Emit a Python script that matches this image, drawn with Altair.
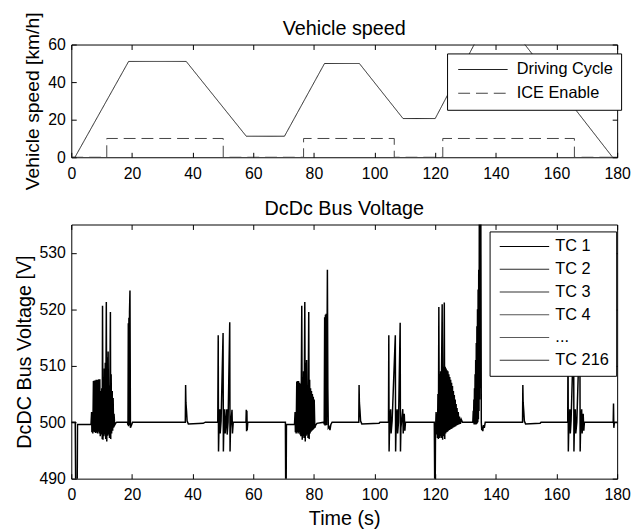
import altair as alt
import pandas as pd

FONT = "Liberation Sans"

# ---------------- Panel 1 : vehicle speed ----------------
speed_time = [0, 1.2, 18.9, 37.9, 57.7, 70.3, 83.5, 95.0, 109.4, 120.0, 133.5, 148.6, 178.5, 180]
speed_kmh = [0, 0, 51.0, 51.0, 11.2, 11.2, 49.9, 49.9, 20.6, 20.6, 62.0, 62.0, 0, 0]

ice_time = [0, 11.7, 11.7, 50.1, 50.1, 76.6, 76.6, 106.5, 106.5, 122.5, 122.5, 165.9, 165.9, 180]
ice_value = [0, 0, 10, 10, 0, 0, 10, 10, 0, 0, 10, 10, 0, 0]

speed_series = ["Driving Cycle", "ICE Enable"]
speed_colors = ["#222222", "#444444"]
speed_dash = [[1, 0], [12, 6]]

x_ticks = [0, 20, 40, 60, 80, 100, 120, 140, 160, 180]
speed_ticks = [0, 20, 40, 60]
volt_ticks = [490, 500, 510, 520, 530]

# ---------------- Panel 2 : DcDc bus voltage ----------------
tc_labels = ["TC 1", "TC 2", "TC 3", "TC 4", "...", "TC 216"]
tc_colors = ["#000000", "#2b2b2b", "#333333", "#555555", "#5a5a5a", "#333333"]

# envelope of the overlaid test-case traces (time [s], voltage [V])
tc1_points = [
    (0.0, 500.0), (1.3, 500.0), (1.45, 488.0), (1.95, 488.0), (2.05, 499.6), (6.5, 499.6),
    (6.7, 501.8), (6.8, 498.2), (7.0, 501.5), (7.1, 498.0), (7.3, 507.3), (7.45, 498.3),
    (7.6, 507.4), (7.75, 498.2), (7.9, 507.4), (8.05, 498.1), (8.2, 507.5), (8.35, 498.2),
    (8.5, 507.5), (8.65, 498.0), (8.8, 507.5), (8.95, 498.3), (9.1, 507.6), (9.25, 498.0),
    (9.4, 507.6), (9.55, 497.5), (9.75, 505.5), (9.9, 497.8), (10.05, 506.0), (10.2, 497.0),
    (10.3, 520.6), (10.45, 496.9), (10.6, 508.0), (10.75, 497.5), (10.9, 509.5), (11.05, 497.8),
    (11.2, 510.5), (11.35, 497.0), (11.55, 521.3), (11.7, 496.6), (11.85, 511.5), (12.0, 497.6),
    (12.15, 512.5), (12.3, 497.8), (12.5, 506.5), (12.6, 497.2), (12.9, 519.5), (13.0, 497.0),
    (13.15, 508.5), (13.3, 498.0), (13.5, 505.5), (13.65, 498.5), (13.8, 504.3), (13.95, 499.0),
    (14.1, 501.5), (14.3, 499.5), (14.6, 499.8), (15.0, 500.0),
    (18.5, 500.0), (18.7, 499.5), (18.8, 517.5), (18.9, 499.3), (19.0, 518.5), (19.1, 499.5),
    (19.2, 519.5), (19.35, 523.3), (19.5, 499.0), (19.8, 499.4), (20.2, 500.0),
    (37.6, 500.0), (37.7, 506.6), (37.8, 503.5), (38.0, 502.0), (38.2, 500.2), (38.6, 499.7),
    (43.5, 499.8), (44.2, 500.0),
    (48.3, 500.0), (48.45, 515.4), (48.55, 494.8), (48.7, 499.0), (49.0, 502.3), (49.1, 498.0),
    (49.4, 500.2), (50.05, 515.8), (50.15, 494.8), (50.3, 499.0), (50.6, 502.3), (50.75, 498.0),
    (51.0, 500.0), (51.3, 502.3), (51.4, 497.8), (51.7, 500.0), (52.25, 517.7), (52.35, 494.8),
    (52.5, 499.0), (53.0, 502.2), (53.15, 498.0), (53.4, 500.0),
    (57.6, 500.0), (57.7, 502.2), (57.8, 498.4), (57.9, 502.0), (58.0, 498.6), (58.2, 500.0),
    (70.6, 500.0), (70.7, 488.0), (70.85, 488.0), (70.95, 499.6), (73.6, 499.6),
    (73.8, 501.8), (73.9, 498.2), (74.05, 501.5), (74.15, 498.0), (74.35, 507.2), (74.5, 498.2),
    (74.65, 507.3), (74.8, 498.0), (74.95, 507.3), (75.1, 498.2), (75.25, 507.0), (75.4, 497.8),
    (75.55, 506.8), (75.7, 497.5), (75.85, 506.5), (76.0, 520.6), (76.15, 496.9), (76.3, 508.0),
    (76.45, 497.5), (76.6, 509.0), (76.75, 497.2), (77.0, 521.3), (77.15, 496.6), (77.3, 510.5),
    (77.45, 497.6), (77.6, 511.0), (77.75, 497.8), (77.9, 506.5), (78.05, 497.2), (78.3, 519.5),
    (78.45, 497.0), (78.6, 507.5), (78.75, 498.0), (78.9, 506.0), (79.05, 498.3), (79.2, 505.5),
    (79.35, 498.5), (79.5, 505.0), (79.65, 498.6), (79.8, 504.5), (79.95, 498.8), (80.1, 504.0),
    (80.3, 499.0), (80.6, 499.5), (81.0, 499.8), (83.3, 500.0),
    (83.4, 499.6), (83.55, 518.6), (83.65, 499.4), (83.8, 519.0), (83.9, 499.4), (84.05, 519.2),
    (84.2, 499.5), (84.45, 527.0), (84.6, 506.0), (84.75, 499.0), (85.0, 499.2), (85.3, 498.6),
    (85.6, 499.6), (86.0, 500.0),
    (94.8, 500.0), (94.9, 506.6), (95.0, 503.5), (95.2, 502.0), (95.4, 500.2), (95.8, 499.7),
    (101.5, 499.8), (101.8, 500.0),
    (104.6, 500.0), (104.7, 515.4), (104.8, 494.8), (104.95, 499.0), (105.3, 502.3), (105.45, 498.0),
    (105.8, 500.2), (106.85, 515.4), (106.95, 494.8), (107.1, 499.0), (107.45, 502.3), (107.6, 498.0),
    (107.9, 500.0), (108.45, 517.6), (108.55, 494.8), (108.7, 499.0), (109.3, 502.3), (109.45, 498.0),
    (109.8, 501.5), (110.0, 498.5), (110.2, 500.0),
    (119.7, 500.0), (119.85, 488.0), (120.0, 488.0), (120.1, 498.3), (120.3, 501.8), (120.45, 497.8),
    (120.6, 501.5), (120.75, 497.2), (120.9, 505.0), (121.05, 497.0), (121.2, 520.4), (121.35, 497.2),
    (121.5, 508.5), (121.65, 497.5), (121.8, 509.0), (121.95, 497.2), (122.1, 509.5), (122.3, 520.9),
    (122.45, 496.9), (122.6, 509.8), (122.75, 497.5), (123.0, 521.2), (123.15, 497.0), (123.3, 509.8),
    (123.45, 498.0), (123.6, 509.5), (123.75, 498.2), (123.9, 509.2), (124.05, 498.3), (124.2, 509.0),
    (124.35, 498.5), (124.5, 508.5), (124.65, 498.6), (124.8, 508.0), (124.95, 498.7), (125.1, 507.5),
    (125.25, 498.8), (125.4, 507.0), (125.55, 498.9), (125.7, 506.4), (125.85, 499.0), (126.0, 505.5),
    (126.15, 499.1), (126.3, 504.8), (126.45, 499.2), (126.6, 504.0), (126.75, 499.3), (126.9, 503.2),
    (127.05, 499.4), (127.2, 502.5), (127.4, 499.5), (127.6, 501.8), (127.8, 499.6), (128.0, 501.0),
    (128.3, 499.7), (128.6, 500.5), (129.0, 500.0),
    (132.4, 500.0), (132.55, 502.0), (132.65, 499.8), (132.75, 504.0), (132.85, 499.6), (132.95, 506.0),
    (133.05, 499.6), (133.15, 508.5), (133.25, 499.6), (133.35, 511.0), (133.45, 499.6), (133.55, 514.0),
    (133.65, 499.7), (133.75, 517.0), (133.85, 499.8), (133.95, 520.0), (134.05, 500.0), (134.15, 523.5),
    (134.25, 500.5), (134.35, 527.0), (134.45, 502.0), (134.55, 540.0), (134.65, 504.0), (134.8, 540.0),
    (134.95, 506.0), (135.05, 536.0), (135.2, 500.0), (135.35, 498.6), (135.5, 499.2), (135.7, 498.4),
    (135.9, 499.5), (136.2, 499.0), (136.5, 500.0),
    (148.8, 500.0), (148.9, 506.6), (149.0, 503.5), (149.2, 502.0), (149.4, 500.2), (149.8, 499.7),
    (154.6, 499.8), (154.9, 500.0),
    (163.7, 500.0), (163.8, 516.0), (163.9, 494.8), (164.05, 499.0), (164.4, 502.3), (164.55, 498.0),
    (164.8, 500.2), (165.65, 516.0), (165.75, 494.8), (165.9, 499.0), (166.2, 502.3), (166.35, 498.0),
    (166.7, 500.0), (167.7, 518.0), (167.8, 494.8), (167.95, 499.0), (168.3, 502.3), (168.45, 498.0),
    (168.8, 501.5), (169.0, 498.5), (169.2, 500.0),
    (178.7, 500.0), (178.8, 503.3), (178.9, 499.0), (179.1, 500.0), (180.0, 500.0),
]

# ---------------- data frames ----------------
top_df = pd.DataFrame({
    "t": speed_time + ice_time,
    "v": speed_kmh + ice_value,
    "series": [speed_series[0]] * len(speed_time) + [speed_series[1]] * len(ice_time),
})
top_df["i"] = range(len(top_df))

bot_df = pd.DataFrame({
    "t": [p[0] for p in tc1_points],
    "v": [p[1] for p in tc1_points],
    "series": tc_labels[0],
})
bot_df["i"] = range(len(bot_df))

TICK = 5


def main_x(title=None):
    return alt.Axis(values=x_ticks, orient="bottom", offset=-TICK, tickSize=TICK, labelPadding=8,
                    labelFlush=False, labelOverlap=False, titlePadding=6,
                    title=title if title else None, minExtent=0)


def main_y(values, title, title_size=20):
    return alt.Axis(values=values, title=title, orient="left", offset=-TICK, tickSize=TICK,
                    labelPadding=6, titlePadding=5, labelOverlap=False, labelFlush=False,
                    titleFontSize=title_size, minExtent=0)


def mirror_axis(values, orient):
    return alt.Axis(values=values, orient=orient, labels=False, title=None, offset=-TICK,
                    tickSize=TICK, minExtent=0, maxExtent=0)


xscale = alt.Scale(domain=[0, 180], nice=False, zero=False)

# ---------------- top panel ----------------
top_legend = alt.Legend(
    title=None, orient="none", legendX=380, legendY=9,
    symbolType="M-1,0H9", symbolSize=100, symbolStrokeWidth=1.2, labelOffset=46,
    labelFontSize=16.5, labelFont=FONT, labelColor="black",
    strokeColor="black", fillColor="white", padding=8, rowPadding=7,
)
top_lines = alt.Chart(top_df).mark_line(clip=True, strokeWidth=1).encode(
    x=alt.X("t:Q", scale=xscale, axis=main_x()),
    y=alt.Y("v:Q", scale=alt.Scale(domain=[0, 60], nice=False, zero=False),
            axis=main_y(speed_ticks, "Vehicle speed [km/h]", 19.5)),
    color=alt.Color("series:N", scale=alt.Scale(domain=speed_series, range=speed_colors),
                    legend=top_legend),
    strokeDash=alt.StrokeDash("series:N", scale=alt.Scale(domain=speed_series, range=speed_dash),
                              legend=top_legend),
    order=alt.Order("i:Q"),
)
top_frame = alt.Chart(top_df).mark_point(opacity=0, clip=True).encode(
    x=alt.X("t:Q", scale=xscale, axis=mirror_axis(x_ticks, "top")),
    y=alt.Y("v:Q", scale=alt.Scale(domain=[0, 60], nice=False, zero=False),
            axis=mirror_axis(speed_ticks, "right")),
)
top = alt.layer(top_lines, top_frame).resolve_axis(x="independent", y="independent").properties(
    width=552, height=114,
    title=alt.TitleParams("Vehicle speed", fontSize=20, font=FONT, fontWeight="normal",
                          color="black", offset=-27),
)

# ---------------- bottom panel ----------------
bot_legend = alt.Legend(
    title=None, orient="none", legendX=423, legendY=7,
    symbolType="M-1,0H9", symbolSize=100, symbolStrokeWidth=1.2, labelOffset=43,
    labelFontSize=16.5, labelFont=FONT, labelColor="black",
    strokeColor="black", fillColor="white", padding=7, rowPadding=6,
)
vscale = alt.Scale(domain=[490, 535], nice=False, zero=False)
bot_lines = alt.Chart(bot_df).mark_line(clip=True, strokeWidth=1.5).encode(
    x=alt.X("t:Q", scale=xscale, axis=main_x("Time (s)")),
    y=alt.Y("v:Q", scale=vscale, axis=main_y(volt_ticks, "DcDC Bus Voltage [V]")),
    color=alt.Color("series:N", scale=alt.Scale(domain=tc_labels, range=tc_colors),
                    legend=bot_legend),
    order=alt.Order("i:Q"),
)
bot_frame = alt.Chart(bot_df).mark_point(opacity=0, clip=True).encode(
    x=alt.X("t:Q", scale=xscale, axis=mirror_axis(x_ticks, "top")),
    y=alt.Y("v:Q", scale=vscale, axis=mirror_axis(volt_ticks, "right")),
)
bottom = alt.layer(bot_lines, bot_frame).resolve_axis(x="independent", y="independent").properties(
    width=552, height=257,
    title=alt.TitleParams("DcDc Bus Voltage", fontSize=20, font=FONT, fontWeight="normal",
                          color="black", offset=5),
)

chart = alt.vconcat(top, bottom, spacing=8).resolve_scale(
    color="independent", strokeDash="independent"
).resolve_legend(
    color="independent", strokeDash="independent"
).configure_view(
    stroke="black", strokeWidth=1
).configure_axis(
    labelFont=FONT, labelFontSize=16, labelColor="black",
    titleFont=FONT, titleFontSize=20, titleFontWeight="normal", titleColor="black",
    tickColor="black", grid=False, domain=False,
).properties(
    padding={"left": 5, "top": 0, "right": 0, "bottom": 0},
    background="white",
)

chart.save("out.html", embed_options={"renderer": "svg", "actions": False})
